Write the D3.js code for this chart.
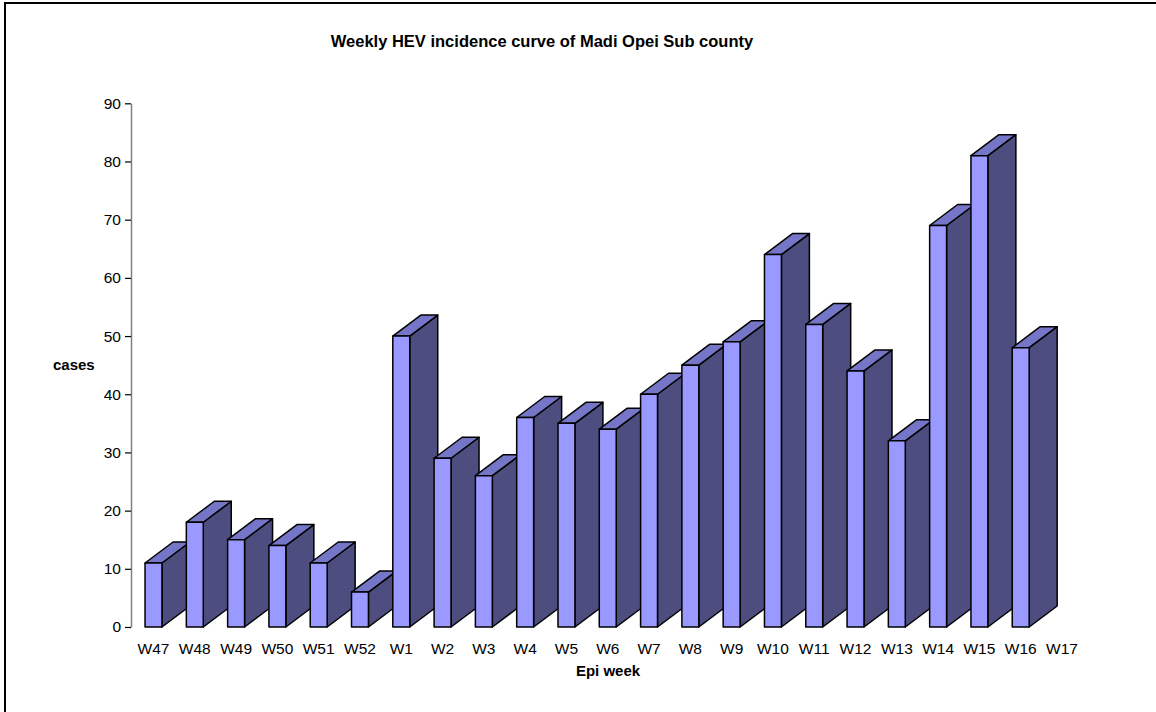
<html>
<head>
	<title>Weekly HEV incidence</title>
	<meta charset="utf-8">
	<script src="https://d3js.org/d3.v7.min.js"></script>
	<style>
		body { margin: 0; background: #fff; }
		text { font-family: "Liberation Sans", Arial, sans-serif; }
	</style>
</head>
<body>
	<script type="text/javascript">
		var width = 1156
		var height = 712

		// data
		var weeks = ["W47", "W48", "W49", "W50", "W51", "W52", "W1", "W2", "W3", "W4", "W5", "W6",
		             "W7", "W8", "W9", "W10", "W11", "W12", "W13", "W14", "W15", "W16", "W17"]
		var cases = [11, 18, 15, 14, 11, 6, 50, 29, 26, 36, 35, 34,
		             40, 45, 49, 64, 52, 44, 32, 69, 81, 48, null]
		var yTicks = [0, 10, 20, 30, 40, 50, 60, 70, 80, 90]

		var svg = d3.select("body").append("svg")
		  .attr("width", width)
		  .attr("height", height)

		// frame round the whole chart (runs off right and bottom)
		svg.append("rect")
		  .attr("x", 5).attr("y", 3)
		  .attr("width", 1300).attr("height", 900)
		  .attr("fill", "none")
		  .attr("stroke", "#000")
		  .attr("stroke-width", 2)

		var x = d3.scalePoint().domain(weeks).range([153.5, 1062])
		var y = d3.scaleLinear().domain([0, 90]).range([627, 103.3])

		var step = x.step()
		var bw = step * 0.41   // front face width
		var dx = 28, dy = 21   // 3d depth

		// y axis
		var yAxis = svg.append("g")
		  .attr("transform", "translate(131,0)")
		  .call(d3.axisLeft(y).tickValues(yTicks).tickSize(6).tickPadding(4).tickSizeOuter(0))
		yAxis.select(".domain").attr("stroke", "#808080").attr("stroke-width", 1.5)
		yAxis.selectAll(".tick line").attr("stroke", "#000").attr("stroke-width", 1.2)
		yAxis.selectAll(".tick text")
		  .attr("font-size", 15.5)
		  .attr("font-family", "Liberation Sans, Arial, sans-serif")
		  .attr("fill", "#000")

		// week labels
		svg.append("g").selectAll("text")
		  .data(weeks)
		  .enter()
		  .append("text")
		    .attr("x", d => x(d))
		    .attr("y", 654)
		    .attr("text-anchor", "middle")
		    .attr("font-size", 15.5)
		    .text(d => d)

		// 3d bars, drawn left to right so later bars sit in front
		var rows = weeks.map((w, i) => ({week: w, value: cases[i]})).filter(d => d.value != null)

		var bars = svg.append("g").selectAll("g")
		  .data(rows)
		  .enter()
		  .append("g")
		    .attr("stroke", "#000")
		    .attr("stroke-width", 1.5)
		    .attr("stroke-linejoin", "round")

		bars.append("path") // side face
		  .attr("fill", "#4d4d80")
		  .attr("d", function(d) {
		    var x1 = x(d.week) + bw / 2, y0 = y(0), y1 = y(d.value)
		    return "M" + x1 + "," + y0 + "L" + (x1 + dx) + "," + (y0 - dy) +
		           "L" + (x1 + dx) + "," + (y1 - dy) + "L" + x1 + "," + y1 + "Z"
		  })

		bars.append("path") // top face
		  .attr("fill", "#7676c8")
		  .attr("d", function(d) {
		    var x0 = x(d.week) - bw / 2, x1 = x(d.week) + bw / 2, y1 = y(d.value)
		    return "M" + x0 + "," + y1 + "L" + (x0 + dx) + "," + (y1 - dy) +
		           "L" + (x1 + dx) + "," + (y1 - dy) + "L" + x1 + "," + y1 + "Z"
		  })

		bars.append("rect") // front face
		  .attr("fill", "#9999ff")
		  .attr("x", d => x(d.week) - bw / 2)
		  .attr("y", d => y(d.value))
		  .attr("width", bw)
		  .attr("height", d => y(0) - y(d.value))

		// titles
		svg.append("text")
		  .attr("x", 542).attr("y", 47)
		  .attr("text-anchor", "middle")
		  .attr("font-size", 16.5).attr("font-weight", "bold")
		  .text("Weekly HEV incidence curve of Madi Opei Sub county")

		svg.append("text")
		  .attr("x", 608).attr("y", 676)
		  .attr("text-anchor", "middle")
		  .attr("font-size", 15).attr("font-weight", "bold")
		  .text("Epi week")

		svg.append("text")
		  .attr("x", 53).attr("y", 370)
		  .attr("font-size", 15).attr("font-weight", "bold")
		  .text("cases")
	</script>
</body>
</html>
